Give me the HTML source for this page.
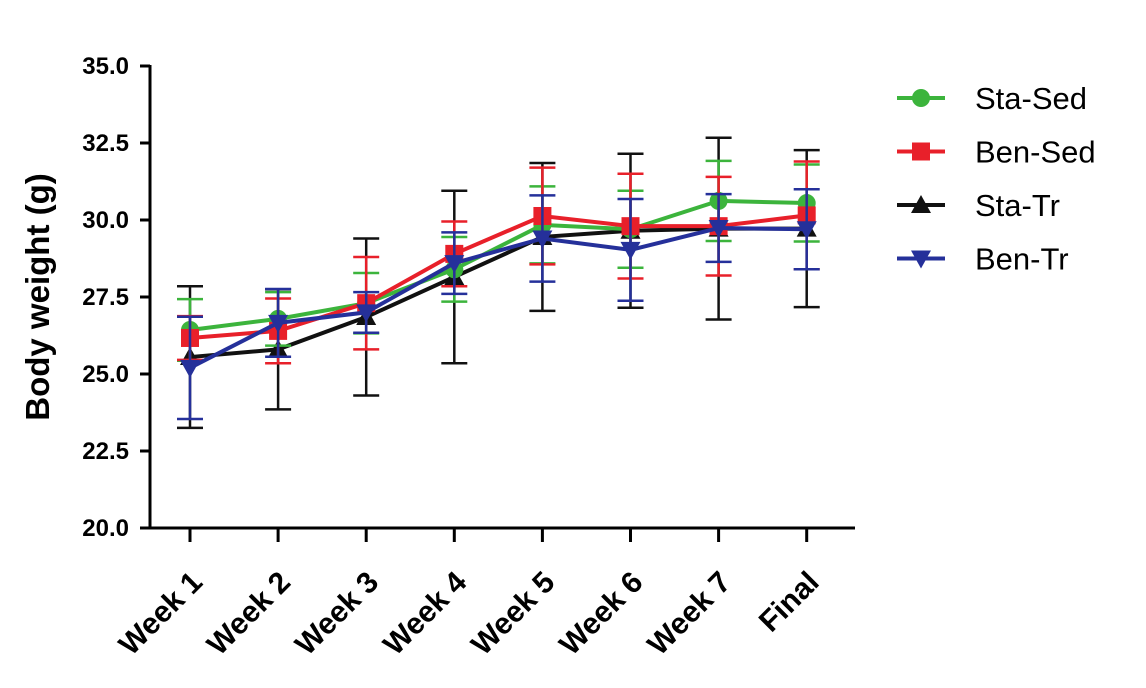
<!DOCTYPE html>
<html><head><meta charset="utf-8"><style>
html,body{margin:0;padding:0;background:#fff;}
svg text{font-family:"Liberation Sans",Arial,sans-serif;}
</style></head><body>
<svg id="chart" width="1146" height="683" viewBox="0 0 1146 683" xmlns="http://www.w3.org/2000/svg">
<g id="axes"></g>
<g id="series"></g>
<g id="legend"></g>
<text transform="translate(49,297) rotate(-90)" text-anchor="middle" font-size="33" font-weight="bold">Body weight (g)</text>
</svg>
<script>
const categories = ["Week 1","Week 2","Week 3","Week 4","Week 5","Week 6","Week 7","Final"];
const yTicks = [20.0,22.5,25.0,27.5,30.0,32.5,35.0];
const seriesNames = ["Sta-Sed","Ben-Sed","Sta-Tr","Ben-Tr"];
const staSedMean = [26.43,26.79,27.3,28.4,29.84,29.7,30.62,30.55];
const staSedErr  = [1.0,0.87,0.98,1.05,1.25,1.25,1.3,1.25];
const benSedMean = [26.17,26.4,27.3,28.9,30.13,29.8,29.8,30.15];
const benSedErr  = [0.71,1.05,1.5,1.05,1.57,1.7,1.6,1.75];
const staTrMean  = [25.55,25.8,26.85,28.15,29.45,29.65,29.72,29.72];
const staTrErr   = [2.3,1.95,2.55,2.8,2.4,2.5,2.95,2.55];
const benTrMean  = [25.2,26.66,27.0,28.6,29.4,29.03,29.74,29.7];
const benTrErr   = [1.66,1.1,0.66,1.0,1.4,1.65,1.1,1.3];
const colors = ["#3cb43c","#e8202a","#111111","#25309a"];
const markers = ["circle","square","triangle","triangle-down"];
const means=[staSedMean,benSedMean,staTrMean,benTrMean];
const errs=[staSedErr,benSedErr,staTrErr,benTrErr];

const NS="http://www.w3.org/2000/svg";
const y0=528,y1=66,vmin=20,vmax=35;
function yS(v){return y0-(v-vmin)/(vmax-vmin)*(y0-y1);}
function xS(i){return 190+i*88.1;}
function mk(tag,attrs,parent){const e=document.createElementNS(NS,tag);for(const k in attrs)e.setAttribute(k,attrs[k]);parent.appendChild(e);return e;}
const axes=document.getElementById('axes');
let yl=mk('line',{x1:150,y1:y1-1,x2:150,y2:y0+1.5,stroke:'#000','stroke-width':3},axes);


let xl=mk('line',{x1:148.5,y1:y0,x2:855,y2:y0,stroke:'#000','stroke-width':3},axes);


yTicks.forEach(v=>{
  let t=mk('line',{x1:140,y1:yS(v),x2:150,y2:yS(v),stroke:'#000','stroke-width':3},axes);
  
  
  let tx=mk('text',{x:129,y:yS(v)+8,'text-anchor':'end','font-size':24,'font-weight':'bold'},axes);
  tx.textContent=v.toFixed(1);
  
  
});
categories.forEach((c,i)=>{
  let t=mk('line',{x1:xS(i),y1:y0,x2:xS(i),y2:y0+14,stroke:'#000','stroke-width':3},axes);
  
  
  let tx=mk('text',{transform:`translate(${xS(i)+14},${y0+56}) rotate(-45)`,'text-anchor':'end','font-size':30,'font-weight':'bold'},axes);
  tx.textContent=c;
  
  
});
function marker(kind,x,y,col,parent){
  let e;
  if(kind==='circle')e=mk('circle',{cx:x,cy:y,r:9,fill:col},parent);
  else if(kind==='square')e=mk('rect',{x:x-9,y:y-9,width:18,height:18,fill:col},parent);
  else if(kind==='triangle')e=mk('polygon',{points:`${x},${y-10} ${x-10},${y+8} ${x+10},${y+8}`,fill:col},parent);
  else e=mk('polygon',{points:`${x},${y+10} ${x-10},${y-8} ${x+10},${y-8}`,fill:col},parent);
  return e;
}
const sg=document.getElementById('series');
[2,0,1,3].forEach(s=>{
  const g=mk('g',{},sg);
  
  
  means[s].forEach((m,i)=>{
    const x=xS(i),e=errs[s][i];
    let b=mk('path',{d:`M${x},${yS(m+e)}V${yS(m-e)}M${x-13},${yS(m+e)}H${x+13}M${x-13},${yS(m-e)}H${x+13}`,stroke:colors[s],'stroke-width':2.5,fill:'none'},g);
    
    
  });
  let l=mk('polyline',{points:means[s].map((m,i)=>xS(i)+','+yS(m)).join(' '),stroke:colors[s],'stroke-width':4,fill:'none'},g);
  
  
  means[s].forEach((m,i)=>{
    let p=marker(markers[s],xS(i),yS(m),colors[s],g);
    
    
  });
});
const lg=document.getElementById('legend');
seriesNames.forEach((n,s)=>{
  const y=98+s*53.5;
  const g=mk('g',{},lg);
  
  
  mk('line',{x1:897,y1:y,x2:945,y2:y,stroke:colors[s],'stroke-width':4},g);
  marker(markers[s],921,y,colors[s],g);
  let t=mk('text',{x:975,y:y+11,'font-size':31},g);
  t.textContent=n;
});
</script>
</body></html>
